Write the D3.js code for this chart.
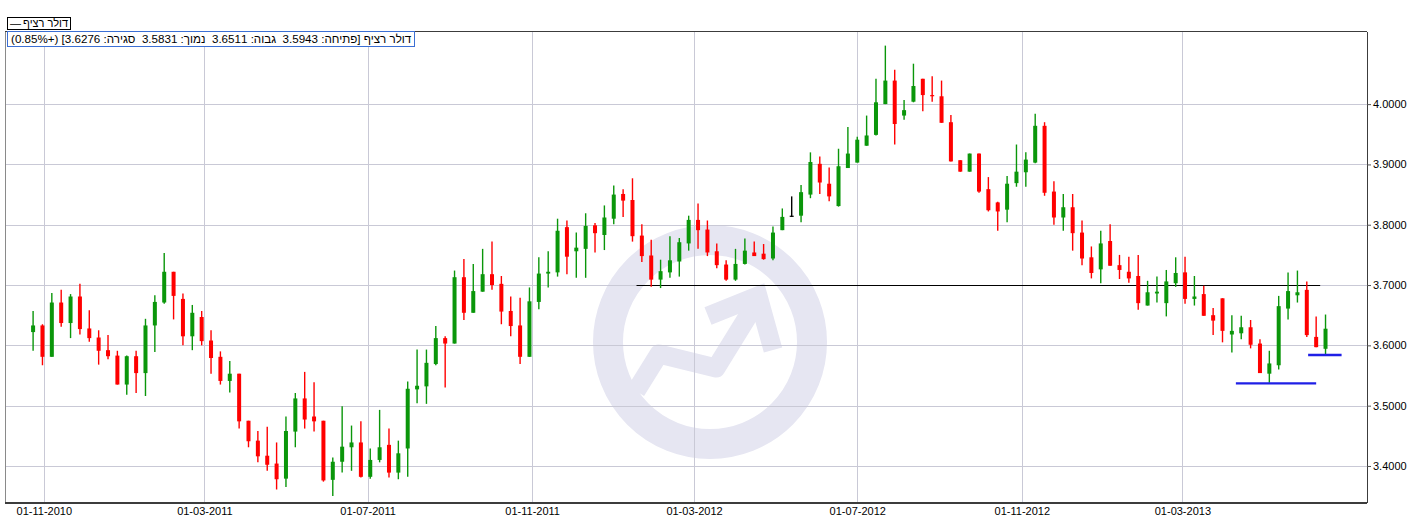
<!DOCTYPE html>
<html><head><meta charset="utf-8">
<script src="https://cdn.jsdelivr.net/npm/d3@7"></script>
<style>
html,body{margin:0;padding:0;background:#fff;}
#wrap{position:relative;width:1422px;height:520px;overflow:hidden;font-family:"Liberation Sans",Arial,sans-serif;}
svg{position:absolute;left:0;top:0;}
.legend{position:absolute;left:7px;top:17px;height:11px;line-height:11px;border:1px solid #000;font-size:11px;padding:0 2px;background:#fff;direction:ltr;white-space:nowrap;color:#000;}
.legend .dash{margin-right:2px;}
.info{position:absolute;left:7px;top:31px;height:14px;line-height:14px;border:1px solid #3b6fd4;font-size:11.6px;padding:0 3px;background:#fff;direction:rtl;white-space:nowrap;color:#000;}
</style></head>
<body><div id="wrap"></div>
<script>
// ---- data (weekly candles, USD/ILS "דולר רציף") ----
const firstWeek = "2010-10-24";
const open  = [3.622,3.633,3.581,3.671,3.637,3.681,3.628,3.613,3.592,3.583,3.535,3.582,3.554,3.633,3.671,3.722,3.677,3.615,3.647,3.608,
3.581,3.541,3.553,3.475,3.442,3.417,3.404,3.379,3.457,3.512,3.482,3.475,3.377,3.407,3.431,3.439,3.382,3.410,3.435,3.389,
3.429,3.527,3.532,3.569,3.612,3.603,3.713,3.654,3.689,3.718,3.702,3.657,3.633,3.581,3.672,3.719,3.721,3.796,3.756,3.760,
3.799,3.783,3.810,3.851,3.841,3.782,3.749,3.709,3.721,3.739,3.769,3.808,3.792,3.756,3.734,3.709,3.735,3.754,3.752,3.744,
3.791,3.815,3.815,3.850,3.901,3.868,3.831,3.894,3.903,3.931,3.949,4.000,4.039,3.981,4.004,4.042,4.015,4.013,3.970,3.907,
3.888,3.918,3.859,3.837,3.825,3.869,3.887,3.903,3.964,3.855,3.812,3.829,3.787,3.746,3.726,3.773,3.733,3.722,3.715,3.666,
3.686,3.670,3.703,3.721,3.677,3.685,3.650,3.678,3.618,3.620,3.630,3.603,3.553,3.567,3.661,3.683,3.692,3.614,3.5943];
const high  = [3.657,3.635,3.687,3.692,3.685,3.702,3.658,3.625,3.617,3.591,3.583,3.591,3.644,3.683,3.753,3.722,3.686,3.667,3.657,3.625,
3.590,3.574,3.553,3.475,3.458,3.465,3.439,3.482,3.521,3.556,3.539,3.475,3.414,3.499,3.467,3.474,3.429,3.493,3.462,3.442,
3.540,3.593,3.593,3.632,3.615,3.724,3.743,3.735,3.760,3.772,3.715,3.681,3.679,3.696,3.746,3.756,3.810,3.807,3.787,3.819,
3.803,3.832,3.865,3.859,3.877,3.801,3.775,3.742,3.781,3.778,3.815,3.835,3.807,3.769,3.741,3.760,3.777,3.772,3.768,3.797,
3.827,3.847,3.866,3.920,3.913,3.895,3.926,3.962,3.946,3.981,4.042,4.097,4.057,4.007,4.067,4.042,4.046,4.039,3.982,3.907,
3.918,3.918,3.879,3.838,3.881,3.933,3.920,3.984,3.970,3.872,3.851,3.851,3.807,3.764,3.790,3.801,3.750,3.747,3.750,3.707,
3.714,3.725,3.746,3.747,3.715,3.699,3.662,3.678,3.650,3.649,3.642,3.610,3.591,3.682,3.721,3.724,3.706,3.648,3.6511];
const low   = [3.591,3.567,3.581,3.631,3.612,3.618,3.606,3.568,3.577,3.535,3.518,3.521,3.516,3.589,3.669,3.643,3.600,3.592,3.600,3.553,
3.535,3.522,3.462,3.431,3.406,3.392,3.361,3.365,3.431,3.462,3.457,3.374,3.350,3.389,3.392,3.381,3.379,3.406,3.381,3.378,
3.382,3.504,3.503,3.567,3.530,3.603,3.642,3.654,3.689,3.692,3.635,3.615,3.569,3.581,3.660,3.696,3.714,3.718,3.712,3.712,
3.754,3.758,3.801,3.813,3.772,3.738,3.697,3.695,3.712,3.714,3.757,3.760,3.748,3.728,3.707,3.707,3.734,3.748,3.742,3.741,
3.791,3.813,3.804,3.844,3.851,3.839,3.830,3.894,3.903,3.931,3.948,4.000,3.933,3.974,4.003,3.988,4.004,3.969,3.905,3.888,
3.888,3.853,3.822,3.790,3.804,3.863,3.863,3.902,3.848,3.800,3.790,3.757,3.733,3.711,3.703,3.732,3.710,3.704,3.659,3.666,
3.671,3.648,3.697,3.669,3.666,3.649,3.617,3.605,3.588,3.610,3.595,3.554,3.538,3.560,3.643,3.671,3.614,3.597,3.5831];
const close = [3.633,3.581,3.671,3.637,3.681,3.627,3.612,3.591,3.582,3.535,3.582,3.554,3.633,3.672,3.722,3.682,3.615,3.654,3.607,3.579,
3.541,3.553,3.474,3.441,3.416,3.402,3.378,3.458,3.512,3.477,3.474,3.376,3.407,3.432,3.439,3.382,3.410,3.431,3.389,3.421,
3.528,3.533,3.571,3.612,3.603,3.713,3.654,3.690,3.718,3.700,3.656,3.632,3.581,3.673,3.719,3.722,3.790,3.747,3.762,3.798,
3.786,3.812,3.850,3.840,3.781,3.748,3.709,3.723,3.741,3.771,3.808,3.791,3.754,3.733,3.709,3.735,3.757,3.748,3.743,3.787,
3.813,3.815,3.854,3.904,3.870,3.847,3.897,3.918,3.941,3.948,4.003,4.039,3.967,3.990,4.030,4.015,4.013,3.969,3.905,3.888,
3.918,3.855,3.824,3.822,3.868,3.888,3.908,3.964,3.853,3.812,3.829,3.786,3.744,3.720,3.769,3.732,3.725,3.711,3.670,3.688,
3.689,3.706,3.720,3.677,3.681,3.649,3.641,3.624,3.624,3.630,3.601,3.554,3.570,3.665,3.690,3.688,3.617,3.597,3.6276];

const yTicks = [3.4,3.5,3.6,3.7,3.8,3.9,4.0];
const xTickDates = ["2010-11-01","2011-03-01","2011-07-01","2011-11-01","2012-03-01","2012-07-01","2012-11-01","2013-03-01"];

// drawn horizontal levels
const levelValue = [3.700, 3.537, 3.584];
const levelFrom  = ["2012-01-18","2013-04-10","2013-06-03"];
const levelTo    = ["2013-06-12","2013-06-09","2013-06-28"];

const seriesName = "דולר רציף";
const infoText = "דולר רציף [פתיחה: 3.5943\u00a0\u00a0גבוה: 3.6511\u00a0\u00a0נמוך: 3.5831\u00a0\u00a0סגירה: 3.6276] (+0.85%)";

// ---- layout ----
const W = 1422, H = 520;
const L = 5, R = 1367, T = 31.5, B = 503;
const parse = d3.utcParse("%Y-%m-%d");
const x = d3.scaleUtc().domain([Date.UTC(2010,9,3), Date.UTC(2013,6,17)]).range([L, R]);
const y = d3.scaleLinear().domain([3.3386, 4.1204]).range([B, T]);

const wrap = d3.select("#wrap");
const svg = wrap.append("svg").attr("width", W).attr("height", H);

const d0 = parse(firstWeek);
const candles = open.map((o,i)=>({date:d3.utcDay.offset(d0, 7*i), o, h:high[i], l:low[i], c:close[i]}));

// watermark
const wm = svg.append("g").attr("fill","none").attr("stroke","#e6e6f2");
wm.append("circle").attr("cx",710).attr("cy",342).attr("r",102).attr("stroke-width",30);
wm.append("path").attr("d","M636,391 L659,354 L716,368 L753,308").attr("stroke-width",19).attr("stroke-linejoin","round");
wm.append("path").attr("d","M708,316 L758,296 L773,350").attr("stroke-width",19).attr("stroke-linejoin","miter");

// grid
const grid = svg.append("g").attr("stroke","#c9c9d6").attr("stroke-width",1).attr("shape-rendering","crispEdges");
grid.selectAll("line.h").data(yTicks).join("line").attr("class","h")
  .attr("x1",L).attr("x2",R).attr("y1",d=>Math.round(y(d))+0.5).attr("y2",d=>Math.round(y(d))+0.5);
grid.selectAll("line.v").data(xTickDates.map(parse)).join("line").attr("class","v")
  .attr("y1",T).attr("y2",B).attr("x1",d=>Math.round(x(d))+0.5).attr("x2",d=>Math.round(x(d))+0.5);

// levels (black one under candles)
svg.append("line").attr("x1",x(parse(levelFrom[0]))).attr("x2",x(parse(levelTo[0])))
  .attr("y1",Math.round(y(levelValue[0]))+0.5).attr("y2",Math.round(y(levelValue[0]))+0.5)
  .attr("stroke","#000").attr("stroke-width",1.2);

// candles
const up = "#0a960a", dn = "#ff0000", flat = "#000";
const col = d => d.c > d.o ? up : (d.c < d.o ? dn : flat);
const cg = svg.append("g");
cg.selectAll("line").data(candles).join("line")
  .attr("x1",d=>x(d.date)).attr("x2",d=>x(d.date))
  .attr("y1",d=>y(d.h)).attr("y2",d=>y(d.l))
  .attr("stroke",col).attr("stroke-width",1.4);
cg.selectAll("rect").data(candles).join("rect")
  .attr("x",d=>x(d.date)-2).attr("width",4)
  .attr("y",d=>y(Math.max(d.o,d.c)))
  .attr("height",d=>Math.max(1.2, Math.abs(y(d.o)-y(d.c))))
  .attr("fill",col);

// blue levels
for (let i=1;i<levelValue.length;i++){
  svg.append("line").attr("x1",x(parse(levelFrom[i]))).attr("x2",x(parse(levelTo[i])))
    .attr("y1",y(levelValue[i])).attr("y2",y(levelValue[i]))
    .attr("stroke","#1f1fe6").attr("stroke-width",2.4);
}

// frame
const fr = svg.append("g").attr("stroke","#3c3c3c").attr("fill","none").attr("shape-rendering","crispEdges");
fr.append("line").attr("x1",L).attr("x2",L).attr("y1",T).attr("y2",B).attr("stroke","#8a8a8a");
fr.append("line").attr("x1",L).attr("x2",R).attr("y1",T).attr("y2",T);
fr.append("line").attr("x1",R).attr("x2",R).attr("y1",T).attr("y2",B);
fr.append("line").attr("x1",L).attr("x2",R).attr("y1",B).attr("y2",B).attr("stroke-width",1.5);

// axes
const ya = svg.append("g").attr("transform",`translate(${R},0)`)
  .call(d3.axisRight(y).tickValues(yTicks).tickSize(4).tickPadding(2).tickFormat(d3.format(".4f")));
ya.select(".domain").remove();
ya.selectAll("line").attr("stroke","#555");
ya.selectAll("text").attr("font-family","'Liberation Sans',Arial,sans-serif").attr("font-size",11).attr("fill","#000");

const xa = svg.append("g").attr("transform",`translate(0,${B})`)
  .call(d3.axisBottom(x).tickValues(xTickDates.map(parse)).tickSize(0).tickPadding(4).tickFormat(d3.utcFormat("%d-%m-%Y")));
xa.select(".domain").remove();
xa.selectAll("text").attr("font-family","'Liberation Sans',Arial,sans-serif").attr("font-size",11).attr("fill","#000");

// legend & info boxes
const lg = wrap.append("div").attr("class","legend");
lg.append("span").attr("class","dash").text("—");
lg.append("span").attr("dir","rtl").text(seriesName);
wrap.append("div").attr("class","info").text(infoText);
</script>
</body></html>
